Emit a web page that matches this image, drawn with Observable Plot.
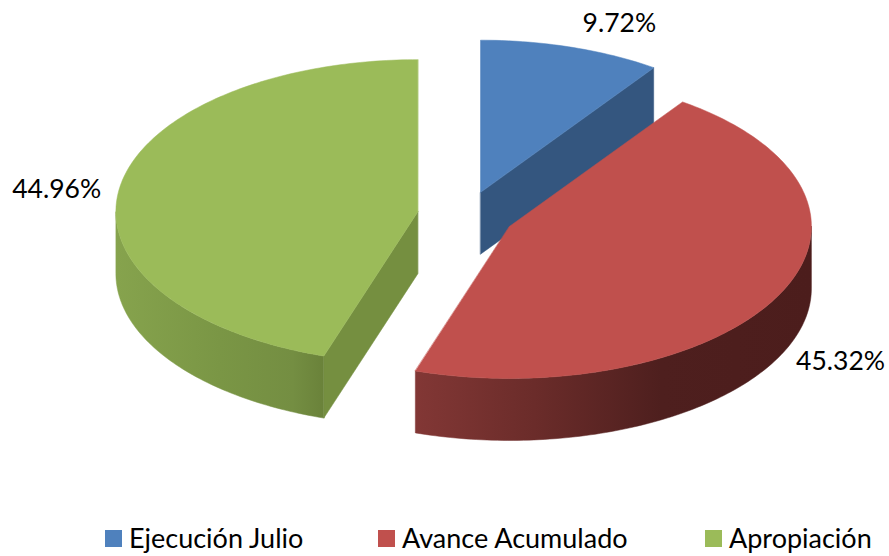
<!DOCTYPE html>
<html>
<head>
<meta charset="utf-8">
<script src="https://cdn.jsdelivr.net/npm/d3@7"></script>
<script src="https://cdn.jsdelivr.net/npm/@observablehq/plot@0.6"></script>
<style>
html,body{margin:0;padding:0;background:#fff;width:889px;height:556px;overflow:hidden}
#chart{position:relative;width:889px;height:556px;font-family:Lato,sans-serif}
#chart svg{display:block}
#legend{position:absolute;left:0;top:520px;width:889px;height:36px;color:#000;font-size:27px;line-height:36px}
#legend span.i{position:absolute;top:0;white-space:nowrap}
#legend i{position:absolute;top:10px;left:-24px;width:17px;height:17px}
</style>
</head>
<body>
<div id="chart"></div>
<script>
const categories = ["Ejecución Julio", "Avance Acumulado", "Apropiación"];
const percentages = [9.72, 45.32, 44.96];
const percentLabels = ["9.72%", "45.32%", "44.96%"];
const topColors = ["#4f81bd", "#c0504d", "#9bbb59"];

const W = 889, H = 520;
const RX = 302, RY = 152, DEPTH = 62 / RY, EXPLODE = 0.161;
const OX = 465.4, OY = 215;

const legendLeft = [129, 402, 729];
const labelDx = [48, 61, -63], labelDy = [-24, 67, 2];

const rad = d => d * Math.PI / 180;
const total = d3.sum(percentages);
let run = 0;
const slices = percentages.map((v, i) => {
  const a0 = run / total * 360; run += v; const a1 = run / total * 360;
  const mid = rad((a0 + a1) / 2);
  return {i, a0, a1, cx: EXPLODE * Math.sin(mid), cy: EXPLODE * Math.cos(mid), mid};
});
const pt = (s, deg, r = 1, drop = 0) => ({
  x: s.cx + r * Math.sin(rad(deg)),
  y: s.cy + r * Math.cos(rad(deg)) - drop
});
const arc = (s, a, b, drop = 0) => {
  const n = Math.max(2, Math.ceil(Math.abs(b - a)));
  return d3.range(n + 1).map(k => pt(s, a + (b - a) * k / n, 1, drop));
};
const topFace = s => [pt(s, s.a0, 0), ...arc(s, s.a0, s.a1)];
const rimWall = (s, a, b) => [...arc(s, a, b), ...arc(s, b, a, DEPTH)];
const cutWall = (s, a) => [pt(s, a, 0), pt(s, a), pt(s, a, 1, DEPTH), pt(s, a, 0, DEPTH)];

const [blue, red, green] = slices;

const gradients = [
  {id: "redWall", stops: [[0, "#823735"], [0.3, "#6b2c2a"], [0.62, "#4e1f1e"], [1, "#4c1d1c"]]},
  {id: "greenWall", stops: [[0, "#86a34d"], [0.5, "#7a9645"], [0.85, "#748e42"], [1, "#6a823a"]]}
];
const defs = () => {
  const d = d3.create("svg:defs");
  gradients.forEach(g => {
    const lg = d.append("linearGradient").attr("id", g.id).attr("x1", 0).attr("x2", 1).attr("y1", 0).attr("y2", 0);
    g.stops.forEach(([o, c]) => lg.append("stop").attr("offset", o).attr("stop-color", c));
  });
  return d.node();
};

const shape = (points, fill) => Plot.line(points, {x: "x", y: "y", fill, stroke: fill, strokeWidth: 0.5, curve: "linear-closed"});

const labelMark = s => Plot.text([pt(s, (s.a0 + s.a1) / 2)], {
  x: "x", y: "y", text: () => percentLabels[s.i],
  dx: labelDx[s.i], dy: labelDy[s.i],
  fontSize: 26.5, fill: "#000", textAnchor: "middle", lineAnchor: "middle", fontFamily: "Lato, sans-serif"
});

const plot = Plot.plot({
  width: W, height: H, margin: 0,
  style: {background: "#fff", overflow: "visible"},
  x: {domain: [-OX / RX, (W - OX) / RX], range: [0, W], axis: null},
  y: {domain: [OY / RY, (OY - H) / RY], range: [0, H], axis: null},
  marks: [
    defs,
    // blue slice: cut wall behind, then top
    shape(cutWall(blue, blue.a1), "#34567f"),
    shape(topFace(blue), topColors[0]),
    // green slice
    shape(rimWall(green, green.a0, 270), "url(#greenWall)"),
    shape(cutWall(green, green.a0), "#758f40"),
    shape(topFace(green), topColors[2]),
    // red slice
    shape(rimWall(red, 90, red.a1), "url(#redWall)"),
    shape(topFace(red), topColors[1]),
    ...slices.map(labelMark)
  ]
});

const root = document.getElementById("chart");
root.appendChild(plot);
const legend = document.createElement("div");
legend.id = "legend";
categories.forEach((c, i) => {
  const span = document.createElement("span");
  span.className = "i";
  span.style.left = legendLeft[i] + "px";
  span.textContent = c;
  const sw = document.createElement("i");
  sw.style.background = topColors[i];
  span.appendChild(sw);
  legend.appendChild(span);
});
root.appendChild(legend);
</script>
</body>
</html>
